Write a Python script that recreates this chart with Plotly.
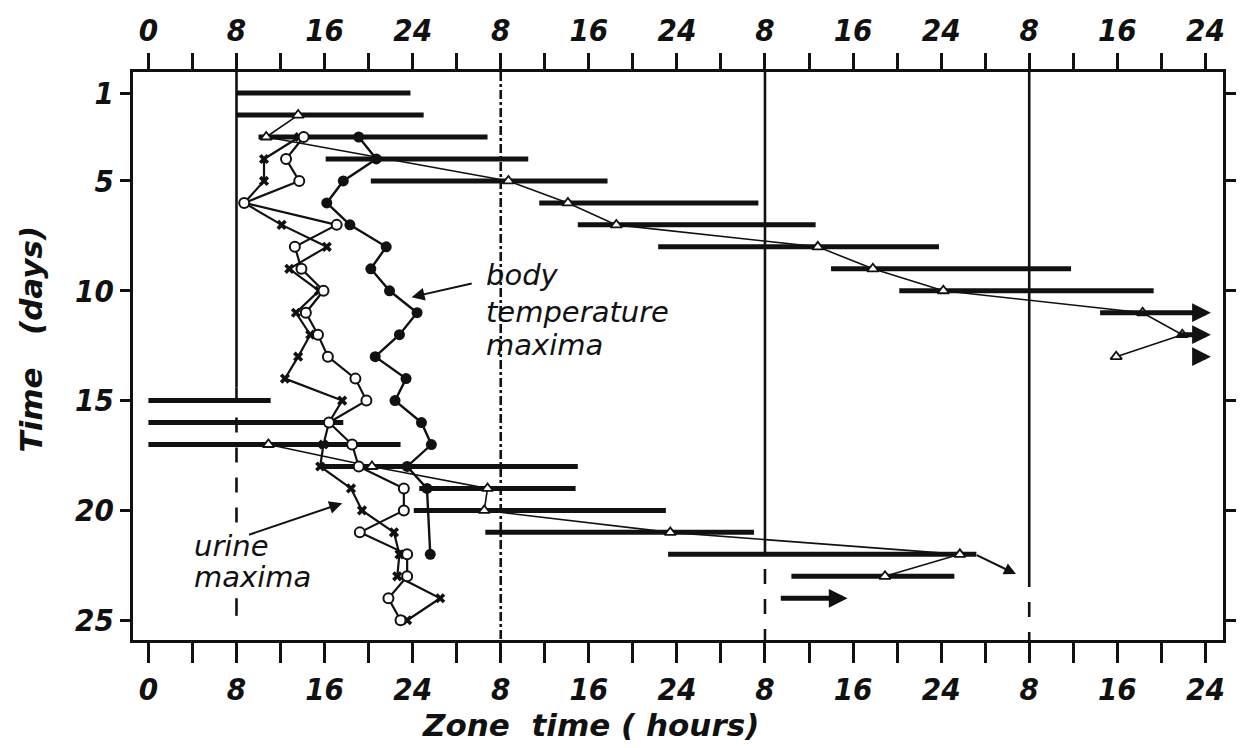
import plotly.graph_objects as go

# ---- data -------------------------------------------------------------
# Sleep periods: day number, start and end in zone time (hours, 0-96 over four days)
sleep_day = [1, 2, 3, 4, 5, 6, 7, 8, 9, 10, 15, 16, 17, 18, 19, 20, 21, 22, 23]
sleep_start = [8.0, 8.0, 10.0, 16.1, 20.2, 35.5, 39.0, 46.3, 62.0, 68.2,
               0.0, 0.0, 0.0, 15.8, 24.6, 24.1, 30.6, 47.2, 58.4]
sleep_end = [23.8, 25.0, 30.8, 34.5, 41.7, 55.4, 60.6, 71.8, 83.8, 91.3,
             11.1, 17.7, 22.9, 39.0, 38.8, 47.0, 55.0, 75.2, 73.2]

# Sleep periods drawn as arrows (continuing past the last day shown)
arrow_day = [11, 12, 13, 24]
arrow_start = [86.3, 93.4, 95.4, 57.3]
arrow_end = [96.5, 96.5, 96.5, 63.5]

# Phase markers on the sleep periods (open triangles, thin line)
phase_a_day = [2, 3, 5, 6, 7, 8, 9, 10, 11, 12, 13]
phase_a_hour = [13.6, 10.7, 32.7, 38.1, 42.5, 60.8, 65.8, 72.2, 90.3, 93.9, 87.9]
phase_b_day = [17, 18, 19, 20, 21, 22, 23]
phase_b_hour = [10.9, 20.3, 30.8, 30.5, 47.4, 73.7, 66.9]
phase_tail_day = [22.0, 22.9]
phase_tail_hour = [75.1, 78.8]

# Open circles
circle_day = list(range(3, 26))
circle_hour = [14.1, 12.5, 13.7, 8.7, 17.1, 13.3, 13.9, 15.9, 14.3, 15.4, 16.3, 18.8,
               19.8, 16.4, 18.5, 19.1, 23.2, 23.2, 19.2, 23.5, 23.5, 21.8, 22.9]

# Urine maxima (crosses)
urine_day = list(range(3, 26))
urine_hour = [13.7, 10.5, 10.5, 8.7, 12.1, 16.2, 12.8, 15.5, 13.4, 14.7, 13.6, 12.4,
              17.6, 16.4, 15.9, 15.6, 18.4, 19.4, 22.3, 22.8, 22.6, 26.5, 23.5]

# Body temperature maxima (filled dots)
temp_day = [3, 4, 5, 6, 7, 8, 9, 10, 11, 12, 13, 14, 15, 16, 17, 18, 19, 22]
temp_hour = [19.1, 20.7, 17.7, 16.2, 18.3, 21.6, 20.2, 21.9, 24.4, 22.8, 20.6, 23.4,
             22.4, 24.8, 25.7, 23.5, 25.3, 25.6]

# Axis ticks
hour_ticks = [0, 8, 16, 24, 32, 40, 48, 56, 64, 72, 80, 88, 96]
hour_labels = ["0", "8", "16", "24", "8", "16", "24", "8", "16", "24", "8", "16", "24"]
day_ticks = [1, 5, 10, 15, 20, 25]

X_RANGE = [-1.4, 97.6]
Y_RANGE = [25.9, 0.04]

# Local 08:00 reference lines as segments: hour, from day, to day, dash style
ref_segments = [
    (8, Y_RANGE[1], 14.4, "solid"), (8, 14.4, 21.0, "longdash"), (8, 24.0, 24.8, "solid"),
    (32, Y_RANGE[1], Y_RANGE[0], "dashdot"),
    (56, Y_RANGE[1], 21.3, "solid"), (56, 21.3, Y_RANGE[0], "longdash"),
    (80, Y_RANGE[1], 22.8, "solid"), (80, 22.8, Y_RANGE[0], "longdash"),
]

# ---- figure -----------------------------------------------------------
INK = "#111111"
TICK_FONT = dict(family="Liberation Sans Narrow, DejaVu Sans Condensed, sans-serif",
                 size=31, color=INK, style="italic", weight="bold")
LABEL_FONT = dict(family="DejaVu Sans, sans-serif", size=29, color=INK, style="italic")
TITLE_FONT = dict(family="DejaVu Sans, sans-serif", size=31,
                  color=INK, style="italic", weight="bold")

fig = go.Figure()

# thick sleep bars as one broken line
bx, by = [], []
for d, s, e in zip(sleep_day, sleep_start, sleep_end):
    bx += [s, e, None]
    by += [d, d, None]
fig.add_trace(go.Scatter(x=bx, y=by, mode="lines",
                         line=dict(color=INK, width=5), hoverinfo="skip",
                         showlegend=False))

# thin phase lines with open triangles
for dd, hh in ((phase_a_day, phase_a_hour), (phase_b_day, phase_b_hour)):
    fig.add_trace(go.Scatter(x=hh, y=dd, mode="lines+markers",
                             line=dict(color=INK, width=1.6),
                             marker=dict(symbol="triangle-up", size=10, color="white",
                                         line=dict(color=INK, width=1.8)),
                             showlegend=False))

# urine maxima
fig.add_trace(go.Scatter(x=urine_hour, y=urine_day, mode="lines+markers",
                         line=dict(color=INK, width=2.2),
                         marker=dict(symbol="x", size=9, color=INK),
                         showlegend=False))

# open circles
fig.add_trace(go.Scatter(x=circle_hour, y=circle_day, mode="lines+markers",
                         line=dict(color=INK, width=2.2),
                         marker=dict(symbol="circle", size=10, color="white",
                                     line=dict(color=INK, width=2)),
                         showlegend=False))

# body temperature maxima
fig.add_trace(go.Scatter(x=temp_hour, y=temp_day, mode="lines+markers",
                         line=dict(color=INK, width=2.4),
                         marker=dict(symbol="circle", size=11, color=INK),
                         showlegend=False))

# empty trace so the top hour axis is laid out
fig.add_trace(go.Scatter(x=hour_ticks, y=[None] * len(hour_ticks), xaxis="x2",
                         mode="markers", hoverinfo="skip", showlegend=False))

# reference lines
shapes = [dict(type="line", xref="x", yref="y", x0=h, x1=h, y0=a, y1=b,
               line=dict(color=INK, width=2.6, dash=style))
          for h, a, b, style in ref_segments]

annotations = []
# arrow-ended sleep periods
for d, s, e in zip(arrow_day, arrow_start, arrow_end):
    annotations.append(dict(x=e, y=d, ax=s, ay=d, xref="x", yref="y",
                            axref="x", ayref="y", text="", showarrow=True,
                            arrowhead=2, arrowsize=0.75, arrowwidth=5,
                            arrowcolor=INK))
# tail of the phase line on day 22
annotations.append(dict(x=phase_tail_hour[1], y=phase_tail_day[1],
                        ax=phase_tail_hour[0], ay=phase_tail_day[0],
                        xref="x", yref="y", axref="x", ayref="y", text="",
                        showarrow=True, arrowhead=2, arrowsize=1.2, arrowwidth=2,
                        arrowcolor=INK))

# labels with pointer arrows
for line, yy in zip(["body", "temperature", "maxima"], [9.29, 10.97, 12.48]):
    annotations.append(dict(x=30.5, y=yy, xref="x", yref="y",
                            text=line, showarrow=False, xanchor="left",
                            yanchor="middle", font=LABEL_FONT))
annotations.append(dict(x=23.9, y=10.29, ax=29.5, ay=9.65, xref="x", yref="y",
                        axref="x", ayref="y", text="", showarrow=True,
                        arrowhead=2, arrowsize=1.3, arrowwidth=2, arrowcolor=INK))
for line, yy in zip(["urine", "maxima"], [21.62, 23.04]):
    annotations.append(dict(x=4.0, y=yy, xref="x", yref="y",
                            text=line, showarrow=False, xanchor="left",
                            yanchor="middle", font=LABEL_FONT))
annotations.append(dict(x=17.6, y=19.67, ax=9.0, ay=21.13, xref="x", yref="y",
                        axref="x", ayref="y", text="", showarrow=True,
                        arrowhead=2, arrowsize=1.3, arrowwidth=2, arrowcolor=INK))

# axis titles
annotations.append(dict(x=-0.094, y=0.53, xref="paper", yref="paper",
                        xanchor="center", yanchor="middle",
                        text="Time   (days)", textangle=-90, showarrow=False,
                        font=TITLE_FONT))
annotations.append(dict(x=0.42, y=-0.15, xref="paper", yref="paper",
                        xanchor="center", yanchor="middle",
                        text="Zone  time ( hours)", showarrow=False,
                        font=TITLE_FONT))

axis_common = dict(range=X_RANGE, tickvals=hour_ticks, ticktext=hour_labels,
                   ticks="outside", tickwidth=2.5, tickcolor=INK,
                   tickfont=TICK_FONT, showgrid=False, zeroline=False,
                   showline=True, linewidth=3, linecolor=INK)

fig.update_layout(
    width=1248, height=748,
    margin=dict(l=133, r=20, t=72, b=108),
    paper_bgcolor="white", plot_bgcolor="white",
    xaxis=dict(**axis_common, ticklen=20, mirror=True,
               minor=dict(dtick=4, tick0=0, ticks="outside", ticklen=20,
                          tickwidth=2.5, tickcolor=INK)),
    xaxis2=dict(**axis_common, ticklen=16, side="top", overlaying="x",
                anchor="y",
                minor=dict(dtick=4, tick0=0, ticks="outside", ticklen=16,
                           tickwidth=2.5, tickcolor=INK)),
    yaxis=dict(range=Y_RANGE, tickvals=day_ticks, ticks="outside", ticklen=10,
               tickwidth=2.5, tickcolor=INK, tickfont=TICK_FONT,
               showgrid=False, zeroline=False, showline=True, linewidth=3,
               linecolor=INK, mirror="ticks"),
    shapes=shapes,
    annotations=annotations,
    showlegend=False,
)

fig.write_html("out.html")
